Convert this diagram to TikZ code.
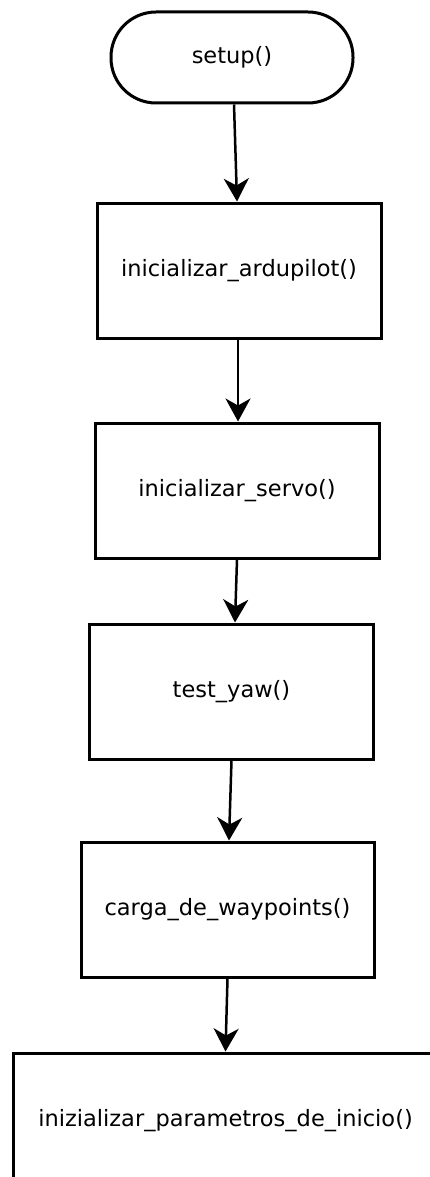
\documentclass[tikz,border=0pt]{standalone}
\usepackage{fontspec}
\setmainfont{DejaVu Sans}
\usepackage{tikz}
\usetikzlibrary{arrows.meta, positioning}

\begin{document}
\begin{tikzpicture}[
    every node/.style={font=\fontsize{22.5}{27}\selectfont},
    inicio/.style={rectangle, rounded corners=45pt, draw=black, line width=3pt, minimum width=242pt, minimum height=91pt},
    proceso/.style={rectangle, draw=black, line width=3pt, minimum width=284pt, minimum height=135pt},
    flecha/.style={-{Stealth[length=23pt, width=25pt, inset=7pt]}, line width=2.5pt}
]

% Marco de la figura
\useasboundingbox (0,0) rectangle (429pt,-1177pt);

% Inicio
\node[inicio] (setup) at (232pt,-57.5pt) {setup()};

% Pasos de la secuencia
\node[proceso, below=97pt of setup, xshift=7pt] (ardu) {inicializar\_ardupilot()};
\node[proceso, below=82pt of ardu, xshift=-2pt] (servo) {inicializar\_servo()};
\node[proceso, below=63pt of servo, xshift=-5.5pt] (yaw) {test\_yaw()};
\node[proceso, below=80pt of yaw, xshift=-4pt, minimum width=293pt] (carga) {carga\_de\_waypoints()};
\node[proceso, below=73pt of carga, xshift=-2pt, minimum width=425pt] (param) {inizializar\_parametros\_de\_inicio()};

% Flechas
\draw[flecha] ([xshift=2pt]setup.south) -- ([xshift=-2pt]ardu.north);
\draw[flecha] ([xshift=-1pt]ardu.south) -- ([xshift=1pt]servo.north);
\draw[flecha] (servo.south) -- ([xshift=3.5pt]yaw.north);
\draw[flecha] (yaw.south) -- ([xshift=1.5pt]carga.north);
\draw[flecha] (carga.south) -- (param.north);

\end{tikzpicture}
\end{document}
